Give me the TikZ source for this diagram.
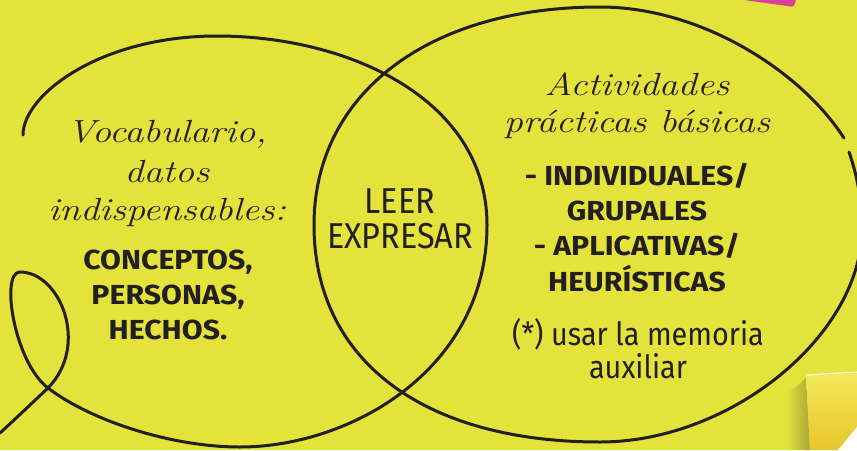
\documentclass[tikz,border=0pt]{standalone}
\usepackage{fontspec}
\newfontfamily\listfont[FakeStretch=1.1]{Fira Sans}
\newfontfamily\handfont[FakeStretch=0.9]{Fira Sans}
\newfontfamily\cursivefont[FakeStretch=1.19]{Latin Modern Roman}
\usetikzlibrary{positioning}
\definecolor{paper}{HTML}{E4E33B}
\definecolor{ink}{HTML}{231F20}
\definecolor{tab}{HTML}{D8419B}
\definecolor{note}{HTML}{F4E85A}
\definecolor{notedark}{HTML}{E8C62C}
\definecolor{shadow}{HTML}{A9A736}

\begin{document}
\begin{tikzpicture}[x=1pt,y=-1pt]
	\tikzstyle{curve}=[draw=ink, line width=3pt, line cap=round, line join=round]
	\tikzstyle{cursiv}=[text=ink, inner sep=0pt, text height=24pt, text depth=8pt, font=\cursivefont\itshape\fontsize{32}{38}\selectfont]
	\tikzstyle{listing}=[text=ink, inner sep=0pt, text height=20pt, text depth=6pt, font=\listfont\bfseries\fontsize{27.5}{32}\selectfont]
	\tikzstyle{hand}=[text=ink, inner sep=0pt, text height=24pt, text depth=6pt, font=\handfont\fontsize{36}{40}\selectfont]
	\tikzstyle{small hand}=[hand, font=\handfont\fontsize{32}{36}\selectfont]

	% paper, tab and curled note
	\fill[paper] (0,0) rectangle (857,450);
	\useasboundingbox (0,0) rectangle (857,450);
	\fill[tab, rounded corners=3pt] (740,-12) -- (744,0) -- (794,7) -- (799,-12) -- cycle;
	\shade[left color=paper, right color=shadow] (786,395) -- (806,378) -- (810,450) -- (786,450) -- cycle;
	\shade[top color=note, bottom color=notedark] (806,375) -- (857,372) -- (857,427) -- (838,450) -- (810,450) -- cycle;
	\draw[white, line width=1pt] (806,375) -- (857,372);
	\fill[white] (838,450) -- (857,427) -- (857,450) -- cycle;

	% left set with its loop
	\draw[curve] (23,135) .. controls (23,95) and (100,36) .. (217,36)
		.. controls (350,36) and (487,100) .. (487,225)
		.. controls (487,370) and (350,447) .. (240,447)
		.. controls (170,447) and (90,420) .. (48,388)
		.. controls (14,362) and (0,272) .. (20,272)
		.. controls (60,272) and (90,345) .. (48,388)
		.. controls (30,405) and (12,422) .. (0,433);
	% right set, open at the top right
	\draw[curve] (844,138) .. controls (800,70) and (700,7) .. (600,7)
		.. controls (428,7) and (314,94) .. (314,225)
		.. controls (314,360) and (423,442) .. (600,442)
		.. controls (731,442) and (862,335) .. (862,228)
		.. controls (862,200) and (857,175) .. (849,152);

	% left texts
	\node[cursiv, anchor=base] (vocab) at (167,142) {Vocabulario,};
	\node[cursiv] (datos) [below=8pt of vocab] {datos};
	\node[cursiv] (indisp) [below=6pt of datos] {indispensables:};
	\node[listing, anchor=base] (conceptos) at (168,269) {CONCEPTOS,};
	\node[listing] (personas) [below=9pt of conceptos] {PERSONAS,};
	\node[listing] (hechos) [below=9pt of personas] {HECHOS.};

	% middle
	\node[hand, anchor=base] (leer) at (400,213) {LEER};
	\node[hand] (expresar) [below=5pt of leer] {EXPRESAR};

	% right texts
	\node[cursiv, anchor=base] (activ) at (637,95) {Actividades};
	\node[cursiv] (practicas) [below=5pt of activ] {prácticas básicas};
	\node[listing, anchor=base] (indiv) at (637,185) {- INDIVIDUALES/};
	\node[listing] (grupales) [below=9pt of indiv] {GRUPALES};
	\node[listing] (aplic) [below=9pt of grupales] {- APLICATIVAS/};
	\node[listing] (heur) [below=9pt of aplic] {HEURÍSTICAS};
	\node[small hand, anchor=base] (memoria) at (638,345) {(*) usar la memoria};
	\node[small hand] (auxiliar) [below=3pt of memoria] {auxiliar};
\end{tikzpicture}
\end{document}
